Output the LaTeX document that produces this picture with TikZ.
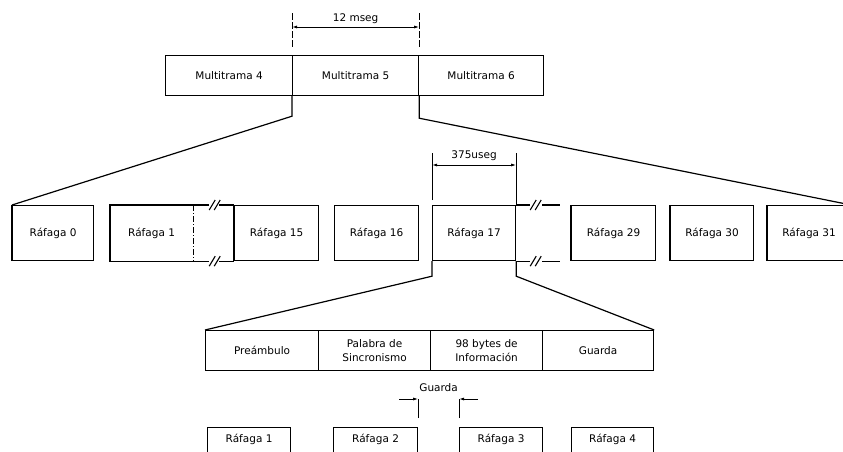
\documentclass[tikz,border=0pt]{standalone}
\usepackage{fontspec}
\setmainfont{DejaVu Sans}
\usetikzlibrary{arrows.meta,calc}
\begin{document}
\begin{tikzpicture}[x=1pt,y=-1pt,
  lbl/.style={font=\fontsize{10.5}{14}\selectfont},
  box/.style={draw, line width=1.2pt, rectangle, inner sep=0pt, anchor=north west, lbl, align=center},
  link/.style={line width=1.2pt},
  dim/.style={line width=0.9pt, {Latex[length=5pt,width=3pt]}-{Latex[length=5pt,width=3pt]}},
  onearrow/.style={line width=0.9pt, -{Latex[length=5pt,width=3pt]}},
  ext/.style={line width=0.9pt},
  thickedge/.style={line width=2.6pt},
  brk/.style={line width=1.1pt}
]
\clip (0,0) rectangle (843,452);
\fill[white] (0,0) rectangle (843,452);

% ---- Multitramas
\node[box, minimum width=127pt, minimum height=40pt] (m4) at (165,55) {Multitrama 4};
\node[box, minimum width=126pt, minimum height=40pt] (m5) at (292,55) {Multitrama 5};
\node[box, minimum width=125pt, minimum height=40pt] (m6) at (418,55) {Multitrama 6};

% 12 mseg dimension
\draw[ext, dash pattern=on 7pt off 2pt] ($(m5.north west)+(0,-8)$) -- ($(m5.north west)+(0,-42)$);
\draw[ext, dash pattern=on 7pt off 2pt] ($(m5.north east)+(0,-8)$) -- ($(m5.north east)+(0,-42)$);
\coordinate (d1) at ($(m5.north west)+(0,-28)$);
\coordinate (d2) at ($(m5.north east)+(0,-28)$);
\draw[dim] (d1) -- (d2) node[midway, above=3pt, lbl, inner sep=0pt] {12 mseg};

% ---- Rafagas row
\node[box, minimum width=81pt, minimum height=55pt] (r0) at (12,205) {Ráfaga 0};
\node[box, draw=none, minimum width=82pt, minimum height=55pt] (r1) at (110,205) {Ráfaga 1};
\node[box, minimum width=84pt, minimum height=55pt] (r15) at (234,205) {Ráfaga 15};
\node[box, minimum width=84pt, minimum height=55pt] (r16) at (334,205) {Ráfaga 16};
\node[box, minimum width=83pt, minimum height=55pt] (r17) at (432,205) {Ráfaga 17};
\node[box, minimum width=84pt, minimum height=55pt] (r29) at (571,205) {Ráfaga 29};
\node[box, minimum width=83pt, minimum height=55pt] (r30) at (670,205) {Ráfaga 30};
\node[box, minimum width=83pt, minimum height=55pt] (r31) at (767,205) {Ráfaga 31};

\draw[link] (r1.north east) -- (r1.north west) -- (r1.south west) -- (r1.south east);
\draw[ext, dash pattern=on 6pt off 2pt on 1pt off 2pt] (r1.north east) -- (r1.south east);

\foreach \n in {r0,r15,r29,r30,r31}{
  \draw[thickedge] (\n.north west) -- (\n.south west);
}

% break marks between Rafaga 1 and Rafaga 15
\foreach \a in {north,south}{
  \draw[link] (r1.\a\space east) -- ++(16,0);
  \draw[brk] ($(r1.\a\space east)+(16,5)$) -- ++(6,-10);
  \draw[brk] ($(r1.\a\space east)+(21,5)$) -- ++(6,-10);
  \draw[link] ($(r15.\a\space west)+(-15,0)$) -- (r15.\a\space west);
}
% break marks between Rafaga 17 and Rafaga 29
\foreach \a in {north,south}{
  \draw[link] (r17.\a\space east) -- ++(14,0);
  \draw[brk] ($(r17.\a\space east)+(14,5)$) -- ++(6,-10);
  \draw[brk] ($(r17.\a\space east)+(19,5)$) -- ++(6,-10);
  \draw[link] ($(r29.\a\space west)+(-29,0)$) -- ($(r29.\a\space west)+(-11,0)$);
}

% expansion lines from Multitrama 5
\draw[link] (m5.south west) -- ++(0,20) -- (r0.north west);
\draw[link] (m5.south east) -- ++(0,22) -- (r31.north east);

% 375useg dimension
\draw[ext] ($(r17.north west)+(0,-5)$) -- ($(r17.north west)+(0,-52)$);
\draw[ext] (r17.north east) -- ($(r17.north east)+(0,-52)$);
\coordinate (e1) at ($(r17.north west)+(0,-40)$);
\coordinate (e2) at ($(r17.north east)+(0,-40)$);
\draw[dim] (e1) -- (e2) node[midway, above=4pt, lbl, inner sep=0pt] {375useg};

% ---- burst structure
\node[box, minimum width=113pt, minimum height=40pt] (p1) at (205,330) {Preámbulo};
\node[box, minimum width=112pt, minimum height=40pt] (p2) at (318,330) {Palabra de\\Sincronismo};
\node[box, minimum width=112pt, minimum height=40pt] (p3) at (430,330) {98 bytes de\\Información};
\node[box, minimum width=111pt, minimum height=40pt] (p4) at (542,330) {Guarda};

\draw[link] (r17.south west) -- ++(0,15) -- (p1.north west);
\draw[link] (r17.south east) -- ++(0,15) -- (p4.north east);

% ---- bottom row
\tikzset{bbox/.style={box, minimum height=32pt, text height=8pt, text depth=10pt}}
\node[bbox, minimum width=83pt] (b1) at (207,427) {Ráfaga 1};
\node[bbox, minimum width=84pt] (b2) at (333,427) {Ráfaga 2};
\node[bbox, minimum width=83pt] (b3) at (459,427) {Ráfaga 3};
\node[bbox, minimum width=82pt] (b4) at (571,427) {Ráfaga 4};

% guard time marks
\draw[ext] ($(b2.north east)+(0,-9)$) -- ($(b2.north east)+(0,-28)$);
\draw[ext] ($(b3.north west)+(0,-9)$) -- ($(b3.north west)+(0,-28)$);
\draw[onearrow] ($(b2.north east)+(-19,-28)$) -- ($(b2.north east)+(0,-28)$);
\draw[onearrow] ($(b3.north west)+(19,-28)$) -- ($(b3.north west)+(0,-28)$);
\node[lbl, inner sep=0pt] (g) at ($(b2.north east)!0.5!(b3.north west)+(0,-39)$) {Guarda};
\end{tikzpicture}
\end{document}
